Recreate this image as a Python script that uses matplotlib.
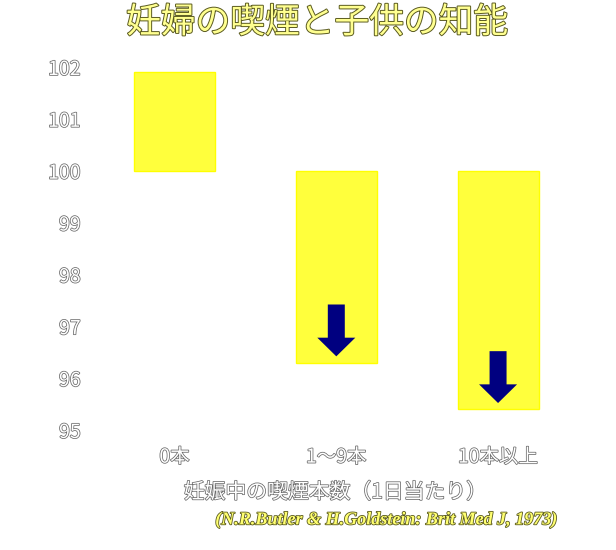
import matplotlib.pyplot as plt
import matplotlib.patheffects as pe

plt.rcParams['font.family'] = ['Noto Sans CJK JP', 'DejaVu Sans']

# Data
categories = ['0本', '1～9本', '10本以上']
iq_values = [101.9, 96.3, 95.4]
has_arrow = [False, True, True]
yticks = [95, 96, 97, 98, 99, 100, 101, 102]

title = '妊婦の喫煙と子供の知能'
xlabel = '妊娠中の喫煙本数（1日当たり）'
source = '(N.R.Butler & H.Goldstein: Brit Med J, 1973)'

outline = [pe.Stroke(linewidth=1.1, foreground='#6a6a6a'), pe.Normal()]

fig = plt.figure(figsize=(6.16, 5.5), dpi=100)
ax = fig.add_axes([0.1468, 0.2182, 0.8193, 0.66])

xs = range(len(categories))
ax.bar(xs, [v - 100 for v in iq_values], bottom=100, width=0.5,
       color='#ffff3c', edgecolor='#ffff00', linewidth=1)

for x, v, arr in zip(xs, iq_values, has_arrow):
    if arr:
        tip = v + 0.12
        ax.arrow(x, tip + 1.0, 0, -1.0, width=0.105, head_width=0.235,
                 head_length=0.36, length_includes_head=True,
                 color='#000080', linewidth=0)

ax.set_xlim(-0.52, 2.6)
ax.set_ylim(95, 102)
ax.set_yticks(yticks)
ax.set_yticklabels([str(t) for t in yticks])
ax.set_xticks(list(xs))
ax.set_xticklabels(categories)
for s in ax.spines.values():
    s.set_visible(False)
ax.tick_params(length=0)
ax.tick_params(axis='y', pad=7)
ax.tick_params(axis='x', pad=12)
for lab in ax.get_yticklabels() + ax.get_xticklabels():
    lab.set_fontsize(14)
    lab.set_color('white')
    lab.set_path_effects(outline)

fig.text(0.515, 0.958, title, ha='center', va='center', fontsize=25,
         color='#ffff90',
         path_effects=[pe.Stroke(linewidth=1.4, foreground='#5a5a20'), pe.Normal()])
fig.text(0.545, 0.105, xlabel, ha='center', va='center', fontsize=15,
         color='white', path_effects=outline)
fig.text(0.903, 0.055, source, ha='right', va='center', fontsize=13,
         color='#ffff70', family=['Liberation Serif'], style='italic',
         weight='bold',
         path_effects=[pe.Stroke(linewidth=1.2, foreground='#5a5a20'), pe.Normal()])

fig.savefig('out.png', dpi=100, facecolor='white')
